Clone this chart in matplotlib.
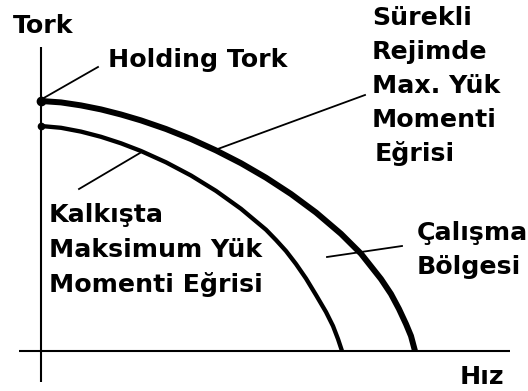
import matplotlib
matplotlib.use("Agg")
import matplotlib.pyplot as plt

# torque-speed curves (speed, torque) in arbitrary units
speed_cont = [0, 20, 40, 60, 80, 100, 125, 150, 175, 200, 225, 250, 275, 300, 320, 340, 350, 358, 365, 370, 374]
torque_cont = [250, 248.6, 245.6, 241.6, 236.5, 230.6, 222, 212, 200.6, 187.8, 173.3, 157, 138.5, 117.2,
               97.3, 72, 57, 42, 27, 15, 0]

speed_start = [0, 20, 40, 60, 80, 100, 125, 150, 175, 200, 225, 235, 245, 255, 265, 275, 285, 292, 297, 301]
torque_start = [225, 223.2, 219.4, 214.2, 207.7, 200, 188.7, 175.5, 160.1, 142.2, 121.3, 111, 100, 87,
                72.5, 56, 39, 25, 12, 0]

y_label = "Tork"
x_label = "Hız"
holding_label = "Holding Tork"
cont_label = ["Sürekli", "Rejimde", "Max. Yük", "Momenti", "Eğrisi"]
start_label = ["Kalkışta", "Maksimum Yük", "Momenti Eğrisi"]
region_label = ["Çalışma", "Bölgesi"]

fig = plt.figure(figsize=(5.28, 3.91), dpi=100)
ax = fig.add_axes([0, 0, 1, 1])
ax.set_xlim(-41, 487)
ax.set_ylim(-40, 351)
ax.axis("off")

fs = 18.2
txt = dict(fontsize=fs, fontweight="bold", family="DejaVu Sans", color="black", va="baseline")

# axes
ax.plot([0, 0], [-31, 304], color="black", lw=1.5, solid_capstyle="butt")
ax.plot([-22, 469], [0, 0], color="black", lw=1.5, solid_capstyle="butt")

# curves
ax.plot(speed_cont, torque_cont, color="black", lw=4.3, solid_capstyle="butt",
        solid_joinstyle="round", marker="o", markersize=6, markevery=[0])
ax.plot(speed_start, torque_start, color="black", lw=3.1, solid_capstyle="butt",
        solid_joinstyle="round", marker="o", markersize=4.5, markevery=[0])

# leader lines
leaders = [
    ([1, 57], [252, 284]),
    ([174, 324], [201, 256]),
    ([38, 99], [162, 198]),
    ([286, 361], [94, 105]),
]
for xs, ys in leaders:
    ax.plot(xs, ys, color="black", lw=1.3)

ax.text(-28, 318, y_label, **txt)
ax.text(419, -33, x_label, **txt)
ax.text(67, 284, holding_label, **txt)
for i, s in enumerate(cont_label):
    ax.text(331 + (3 if i == 4 else 0), 326 - 34 * i, s, **txt)
for i, s in enumerate(start_label):
    ax.text(8, 129 - 35 * i, s, **txt)
for i, s in enumerate(region_label):
    ax.text(376, 111 - 34 * i, s, **txt)

fig.savefig("out.png", dpi=100)
